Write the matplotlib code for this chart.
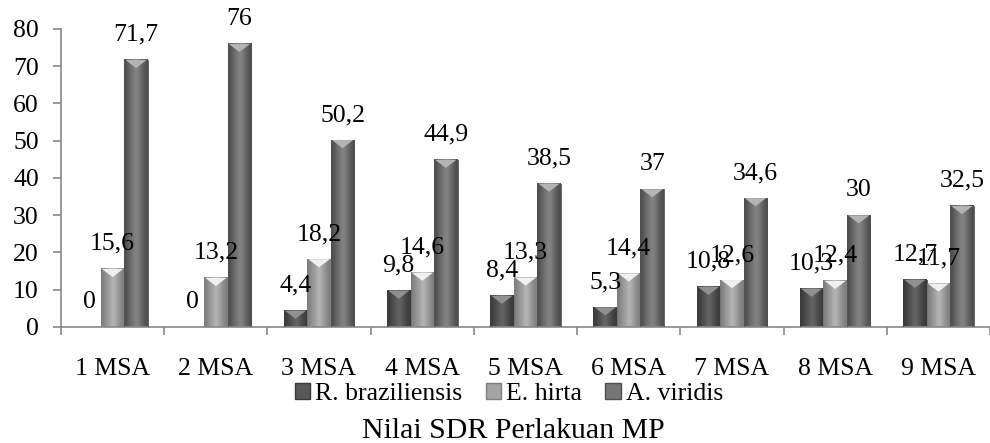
import numpy as np
import matplotlib.pyplot as plt
from matplotlib.patches import Rectangle, Polygon
from matplotlib.colors import LinearSegmentedColormap

plt.rcParams['font.family'] = ['Liberation Serif', 'DejaVu Serif']

kategori = ["1 MSA", "2 MSA", "3 MSA", "4 MSA", "5 MSA", "6 MSA", "7 MSA", "8 MSA", "9 MSA"]
seri = ["R. braziliensis", "E. hirta", "A. viridis"]
r_braz = [0, 0, 4.4, 9.8, 8.4, 5.3, 10.8, 10.3, 12.7]
e_hirta = [15.6, 13.2, 18.2, 14.6, 13.3, 14.4, 12.6, 12.4, 11.7]
a_viridis = [71.7, 76, 50.2, 44.9, 38.5, 37, 34.6, 30, 32.5]
nilai = [r_braz, e_hirta, a_viridis]

warna = ["#585858", "#a4a4a4", "#767676"]
warna_tepi = ["#3a3a3a", "#7e7e7e", "#4e4e4e"]
warna_atas = ["#909090", "#f0f0f0", "#b4b4b4"]

fs = 18.5


def fmt(v):
    if v == int(v):
        return str(int(v))
    return str(v).replace('.', ',')


fig = plt.figure(figsize=(9.9, 4.43), dpi=100)
ax = fig.add_axes([0.0616, 0.2619, 0.9384, 0.6727])

x = np.arange(len(kategori))
lebar = 0.228
grad = np.array([0.0, 0.35, 0.6, 0.8, 0.65, 0.3, 0.0])

for i, data in enumerate(nilai):
    cmap = LinearSegmentedColormap.from_list("g%d" % i, [warna_tepi[i], warna[i], warna_atas[i]])
    for j, v in enumerate(data):
        kiri = x[j] + (i - 1) * lebar - lebar / 2
        if v > 0:
            ax.imshow(grad[np.newaxis, :], cmap=cmap, vmin=0, vmax=1.25, aspect='auto',
                      extent=(kiri, kiri + lebar, 0, v), interpolation='bicubic', zorder=2)
            ax.add_patch(Rectangle((kiri, 0), lebar, v, fill=False, ec=warna_tepi[i], lw=0.6, zorder=3))
            tinggi = min(2.2, v * 0.5)
            ax.add_patch(Polygon([(kiri + 0.01, v), (kiri + lebar - 0.01, v),
                                  (kiri + lebar / 2, v - tinggi)],
                                 closed=True, fc=warna_atas[i], ec='none', zorder=4))
        ax.annotate(fmt(v), (kiri + lebar / 2, v), xytext=(0, 18), textcoords='offset points',
                    ha='center', va='center', fontsize=fs, zorder=5)

ax.set_xlim(-0.5, 8.467)
ax.set_ylim(0, 80)
ax.set_yticks(range(0, 81, 10))
ax.set_xticks(x)
ax.set_xticklabels(kategori)
ax.set_xticks(np.arange(-0.5, 9, 1), minor=True)
ax.tick_params(axis='x', which='major', length=0, pad=22.5, labelsize=fs)
ax.tick_params(axis='x', which='minor', length=6, color='#888888', width=1.2)
ax.tick_params(axis='y', length=6, color='#888888', width=1.2, labelsize=fs, pad=10)

for s in ['top', 'right']:
    ax.spines[s].set_visible(False)
for s in ['left', 'bottom']:
    ax.spines[s].set_color('#888888')
    ax.spines[s].set_linewidth(1.2)

handles = [Rectangle((0, 0), 1, 1, fc=warna[i], ec=warna_tepi[i]) for i in range(3)]
fig.legend(handles, seri, loc='center', bbox_to_anchor=(0.514, 0.110), ncol=3, frameon=False,
           fontsize=fs, handlelength=0.6, handleheight=0.6, handletextpad=0.2, columnspacing=0.9,
           borderpad=0, borderaxespad=0)

fig.text(0.519, 0.028, "Nilai SDR Perlakuan MP", ha='center', va='center', fontsize=21.5)

fig.savefig("out.png", dpi=100)
